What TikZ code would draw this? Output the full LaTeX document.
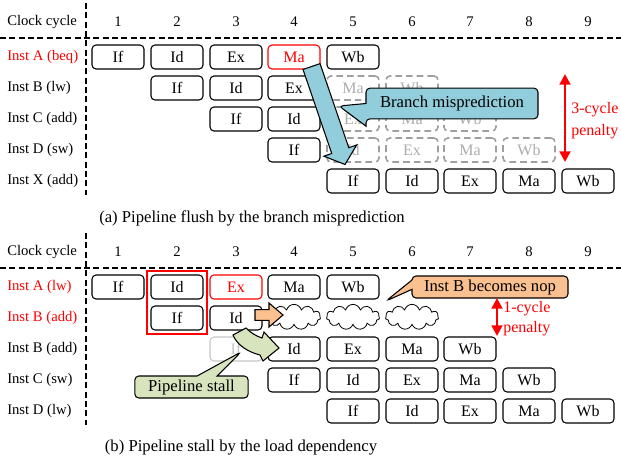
\documentclass[tikz,border=0pt]{standalone}
\usepackage{fontspec}
\setmainfont{Liberation Serif}
\usetikzlibrary{calc,fit,shapes.symbols,shapes.callouts,arrows.meta}

\definecolor{flushblue}{RGB}{146,205,220}
\definecolor{nopbrown}{RGB}{250,192,144}
\definecolor{stallgreen}{RGB}{215,228,189}

% fat block arrow: options, tail, tip, shaft half width, head half width, head length
\newcommand{\fatarrow}[6]{%
  \coordinate (fa-base) at ($(#3)!#6!(#2)$);
  \draw[#1] ($(#2)!#4!90:(#3)$) -- ($(fa-base)!#4!-90:(#2)$) -- ($(fa-base)!#5!-90:(#2)$)
    -- (#3) -- ($(fa-base)!#5!90:(#2)$) -- ($(fa-base)!#4!90:(#2)$) -- ($(#2)!#4!-90:(#3)$) -- cycle;}

\begin{document}
\begin{tikzpicture}[x=0.75pt,y=-0.75pt]

\tikzset{stage/.style = {draw, rounded corners=3pt, line width=0.8pt, minimum width=39pt, minimum height=18pt, inner sep=0pt, font=\fontsize{12}{14}\selectfont}}
\tikzset{hit/.style = {stage, draw=red, text=red}}
\tikzset{flushed/.style = {stage, draw=gray!75, text=gray!65, line width=1.2pt, dash pattern=on 5pt off 3pt}}
\tikzset{stalled/.style = {stage, draw=gray!45, text=gray!45}}
\tikzset{nop/.style = {cloud, draw, cloud puffs=11, cloud ignores aspect, minimum width=40pt, minimum height=19pt, inner sep=0pt, line width=0.6pt}}
\tikzset{inst/.style = {anchor=west, inner sep=0pt, font=\fontsize{11}{13}\selectfont}}
\tikzset{clock/.style = {font=\fontsize{11}{13}\selectfont}}
\tikzset{divider/.style = {line width=1.1pt, dash pattern=on 4.5pt off 2.5pt}}
\tikzset{note/.style = {rectangle callout, draw, rounded corners=3pt, line width=0.8pt, inner sep=2pt, font=\fontsize{12.5}{15}\selectfont}}
\tikzset{penalty/.style = {red, line width=2pt, arrows={Triangle[width=8pt,length=8pt]-Triangle[width=8pt,length=8pt]}}}
\tikzset{caption/.style = {font=\fontsize{12.5}{15}\selectfont}}

\useasboundingbox (0,0) rectangle (621,462);

% (a) pipeline flush
\node[inst] (clk) at (7,22) {Clock cycle};
\node[clock] (t1) at (118,22) {1};
\node[clock] (t2) at (177,22) {2};
\node[clock] (t3) at (236,22) {3};
\node[clock] (t4) at (294,22) {4};
\node[clock] (t5) at (353,22) {5};
\node[clock] (t6) at (412,22) {6};
\node[clock] (t7) at (470,22) {7};
\node[clock] (t8) at (529,22) {8};
\node[clock] (t9) at (588,22) {9};

\draw[divider] (86,3) -- (86,195);
\draw[divider] (0,38) -- (621,38);

\node[inst, text=red] (la) at (7,57) {Inst A (beq)};
\node[inst] (lb) at (7,88) {Inst B (lw)};
\node[inst] (lc) at (7,119) {Inst C (add)};
\node[inst] (ld) at (7,150) {Inst D (sw)};
\node[inst] (lx) at (7,181) {Inst X (add)};

\node[stage] (a1) at (118,57) {If};
\node[stage] (a2) at (177,57) {Id};
\node[stage] (a3) at (236,57) {Ex};
\node[hit] (a4) at (294,57) {Ma};
\node[stage] (a5) at (353,57) {Wb};

\node[stage] (b2) at (177,88) {If};
\node[stage] (b3) at (236,88) {Id};
\node[stage] (b4) at (294,88) {Ex};
\node[flushed] (b5) at (353,88) {Ma};
\node[flushed] (b6) at (412,88) {Wb};

\node[stage] (c3) at (236,119) {If};
\node[stage] (c4) at (294,119) {Id};
\node[flushed] (c5) at (353,119) {Ex};
\node[flushed] (c6) at (412,119) {Ma};
\node[flushed] (c7) at (470,119) {Wb};

\node[stage] (d4) at (294,150) {If};
\node[flushed] (d5) at (353,150) {Id};
\node[flushed] (d6) at (412,150) {Ex};
\node[flushed] (d7) at (470,150) {Ma};
\node[flushed] (d8) at (529,150) {Wb};

\node[stage] (x5) at (353,181) {If};
\node[stage] (x6) at (412,181) {Id};
\node[stage] (x7) at (470,181) {Ex};
\node[stage] (x8) at (529,181) {Ma};
\node[stage] (x9) at (588,181) {Wb};

\coordinate (bt) at ($(a4.south east)+(-9,-3)$);
\coordinate (bh) at ($(x5.north)+(-8,-4)$);
\fatarrow{draw, fill=flushblue, line width=0.8pt}{bt}{bh}{6.75pt}{13pt}{11pt}

\coordinate (mistip) at (339,106);
\node[note, fill=flushblue, minimum width=129pt, minimum height=23pt, callout absolute pointer={(mistip)}, callout pointer width=17pt] (mis) at (452,103.5) {Branch misprediction};

\coordinate (pa1) at (565,74);
\coordinate (pa2) at (565,162);
\draw[penalty] (pa1) -- (pa2);
\node[anchor=west, align=left, text=red, inner sep=0pt, font=\fontsize{12}{16.5}\selectfont] (pa) at (571,121) {3-cycle\\penalty};

\node[caption] (capa) at (252,218) {(a) Pipeline flush by the branch misprediction};

% (b) pipeline stall
\node[inst] (sclk) at (7,252) {Clock cycle};
\node[clock] (st1) at (118,252) {1};
\node[clock] (st2) at (177,252) {2};
\node[clock] (st3) at (236,252) {3};
\node[clock] (st4) at (294,252) {4};
\node[clock] (st5) at (353,252) {5};
\node[clock] (st6) at (412,252) {6};
\node[clock] (st7) at (470,252) {7};
\node[clock] (st8) at (529,252) {8};
\node[clock] (st9) at (588,252) {9};

\draw[divider] (86,233) -- (86,425);
\draw[divider] (0,268) -- (621,268);

\node[inst, text=red] (sla) at (7,287) {Inst A (lw)};
\node[inst, text=red] (slb) at (7,318) {Inst B (add)};
\node[inst] (slbb) at (7,349) {Inst B (add)};
\node[inst] (slc) at (7,380) {Inst C (sw)};
\node[inst] (sld) at (7,411) {Inst D (lw)};

\node[stage] (sa1) at (118,287) {If};
\node[stage] (sa2) at (177,287) {Id};
\node[hit] (sa3) at (236,287) {Ex};
\node[stage] (sa4) at (294,287) {Ma};
\node[stage] (sa5) at (353,287) {Wb};

\node[stage] (sb2) at (177,318) {If};
\node[stage] (sb3) at (236,318) {Id};
\node[nop] (sb4) at (294,317) {};
\node[nop] (sb5) at (353,317) {};
\node[nop] (sb6) at (412,317) {};

\node[stalled] (sbb3) at (236,349) {If};
\node[stage] (sbb4) at (294,349) {Id};
\node[stage] (sbb5) at (353,349) {Ex};
\node[stage] (sbb6) at (412,349) {Ma};
\node[stage] (sbb7) at (470,349) {Wb};

\node[stage] (sc4) at (294,380) {If};
\node[stage] (sc5) at (353,380) {Id};
\node[stage] (sc6) at (412,380) {Ex};
\node[stage] (sc7) at (470,380) {Ma};
\node[stage] (sc8) at (529,380) {Wb};

\node[stage] (sd5) at (353,411) {If};
\node[stage] (sd6) at (412,411) {Id};
\node[stage] (sd7) at (470,411) {Ex};
\node[stage] (sd8) at (529,411) {Ma};
\node[stage] (sd9) at (588,411) {Wb};

\node[draw=red, line width=1.5pt, inner sep=2.5pt, fit=(sa2)(sb2)] (dep) {};

\coordinate (ot) at (255,315);
\coordinate (oh) at (283,315);
\fatarrow{draw, fill=nopbrown, line width=0.8pt}{ot}{oh}{4pt}{9pt}{10.5pt}

\draw[fill=stallgreen, line width=0.8pt] (233,335) -- (246,328) .. controls (251,333) and (256,336) .. (262,338)
  -- (264,332) -- (279,348) -- (263,361) -- (260,355) .. controls (248,352) and (237,345) .. cycle;

\coordinate (stalltip) at (241,352);
\node[note, fill=stallgreen, minimum width=85pt, minimum height=16.5pt, callout absolute pointer={(stalltip)}, callout pointer width=15pt] (stall) at (191.5,387) {Pipeline stall};

\coordinate (noptip) at (386,301);
\node[note, fill=nopbrown, minimum width=117pt, minimum height=16.5pt, callout absolute pointer={(noptip)}, callout pointer width=7pt] (nopnote) at (490,287) {Inst B becomes nop};

\coordinate (pb1) at (497,298);
\coordinate (pb2) at (497,336);
\draw[penalty] (pb1) -- (pb2);
\node[anchor=west, align=left, text=red, inner sep=0pt, font=\fontsize{12}{15}\selectfont] (pb) at (503,319) {1-cycle\\penalty};

\node[caption] (capb) at (241,448) {(b) Pipeline stall by the load dependency};

\end{tikzpicture}
\end{document}
